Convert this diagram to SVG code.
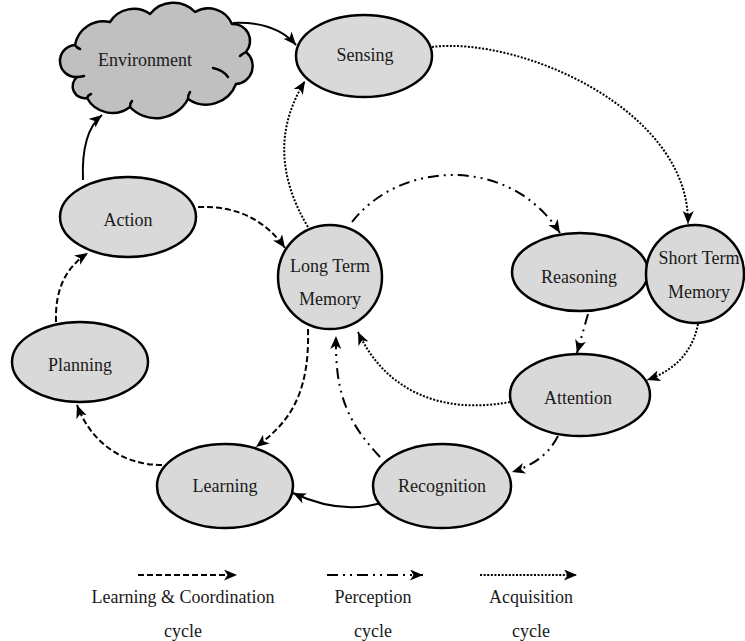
<svg xmlns="http://www.w3.org/2000/svg" width="745" height="641" viewBox="0 0 745 641">
  <style>
    .node { fill: #d9d9d9; stroke: #000; stroke-width: 2.5; }
    .cloud { fill: #c0c0c0; stroke: #000; stroke-width: 2.5; stroke-linejoin: round; }
    .curl { fill: none; stroke: #000; stroke-width: 2.5; stroke-linecap: round; }
    .label { font-family: "Liberation Serif", "Times New Roman", serif; font-size: 18px; fill: #1a1a1a; text-anchor: middle; }
    .edge { fill: none; stroke: #000; stroke-width: 2; }
    .solid { marker-end: url(#arrow); }
    .dashed { stroke-dasharray: 6 3; marker-end: url(#arrow); }
    .dotted { stroke-dasharray: 2 1.6; marker-end: url(#arrow); }
    .dashdot { stroke-dasharray: 11 5 2 5 2 5; marker-end: url(#arrow); }
  </style>
  <defs>
    <marker id="arrow" markerUnits="userSpaceOnUse" markerWidth="14" markerHeight="12" refX="13" refY="5.5" orient="auto">
      <path d="M0,0 L13,5.5 L0,11 L3.5,5.5 z" fill="#000"/>
    </marker>
  </defs>

  <!-- connectors -->
  <g id="connectors">
    <path class="edge solid" d="M233,23 Q275,21 296,45"/>
    <path class="edge solid" d="M83,180 Q81,132 102,115"/>
    <path class="edge dotted" d="M432,47 C520,36 690,110 688,224"/>
    <path class="edge dotted" d="M308,227 Q262,150 305,81"/>
    <path class="edge dashdot" d="M352,222 C400,160 510,155 560,233"/>
    <path class="edge dashed" d="M198,207 Q255,205 285,248"/>
    <path class="edge dashdot" d="M588,314 L577,353"/>
    <path class="edge dotted" d="M698,324 Q690,365 647,380"/>
    <path class="edge dotted" d="M510,402 C440,415 385,390 358,332"/>
    <path class="edge dashdot" d="M558,436 Q545,462 512,472"/>
    <path class="edge dashdot" d="M380,457 C345,420 335,390 336,336"/>
    <path class="edge solid" d="M381,503 Q340,515 293,493"/>
    <path class="edge dashed" d="M308,329 C310,400 285,425 256,447"/>
    <path class="edge dashed" d="M162,465 C120,465 90,440 77,405"/>
    <path class="edge dashed" d="M56,322 C55,290 65,268 88,253"/>
  </g>

  <!-- nodes -->
  <g id="environment">
    <path class="cloud" d="M75,45 A29,29 0 0 1 110,22 A28,28 0 0 1 150,14 A30,30 0 0 1 195,12 A26,26 0 0 1 232,24 A17,17 0 0 1 246,52 A18,18 0 0 1 236,84 A32,32 0 0 1 188,99 A36,36 0 0 1 130,107 A29,29 0 0 1 87,98 A12,12 0 0 1 77,77 A16,16 0 0 1 75,45 z"/>
    <path class="curl" d="M75,45 Q77,48 80,49"/>
    <path class="curl" d="M77,77 Q80,77 84,76"/>
    <path class="curl" d="M87,98 Q88,95 91,94"/>
    <path class="curl" d="M130,107 Q130,103 132,101"/>
    <path class="curl" d="M188,99 Q188,95 190,92"/>
    <path class="curl" d="M213,68 Q223,70 228,77"/>
    <path class="curl" d="M246,52 Q242,54 240,56"/>
    <text class="label" x="145" y="66">Environment</text>
  </g>
  <g id="sensing">
    <ellipse class="node" cx="364" cy="56" rx="68" ry="41"/>
    <text class="label" x="365" y="61">Sensing</text>
  </g>
  <g id="action">
    <ellipse class="node" cx="128" cy="217" rx="68" ry="40"/>
    <text class="label" x="128" y="226">Action</text>
  </g>
  <g id="long-term-memory">
    <circle class="node" cx="330" cy="277" r="52"/>
    <text class="label" x="330" y="272">Long Term</text>
    <text class="label" x="330" y="305">Memory</text>
  </g>
  <g id="reasoning">
    <ellipse class="node" cx="580" cy="272" rx="68" ry="39"/>
    <text class="label" x="579" y="283">Reasoning</text>
  </g>
  <g id="short-term-memory">
    <circle class="node" cx="695" cy="274" r="49"/>
    <text class="label" x="699" y="264">Short Term</text>
    <text class="label" x="699" y="298">Memory</text>
  </g>
  <g id="planning">
    <ellipse class="node" cx="80" cy="362" rx="68" ry="40"/>
    <text class="label" x="80" y="371">Planning</text>
  </g>
  <g id="attention">
    <ellipse class="node" cx="580" cy="395" rx="70" ry="41"/>
    <text class="label" x="578" y="404">Attention</text>
  </g>
  <g id="learning">
    <ellipse class="node" cx="225" cy="486" rx="68" ry="42"/>
    <text class="label" x="225" y="492">Learning</text>
  </g>
  <g id="recognition">
    <ellipse class="node" cx="442" cy="486" rx="69" ry="42"/>
    <text class="label" x="442" y="492">Recognition</text>
  </g>

  <!-- legend -->
  <g id="legend">
    <path class="edge dashed" d="M138,575 L237,575"/>
    <path class="edge dashdot" d="M327,575 L423,575"/>
    <path class="edge dotted" d="M480,575 L577,575"/>
    <text class="label" x="183" y="603">Learning &amp; Coordination</text>
    <text class="label" x="183" y="637">cycle</text>
    <text class="label" x="373" y="603">Perception</text>
    <text class="label" x="373" y="637">cycle</text>
    <text class="label" x="531" y="603">Acquisition</text>
    <text class="label" x="531" y="637">cycle</text>
  </g>
</svg>
